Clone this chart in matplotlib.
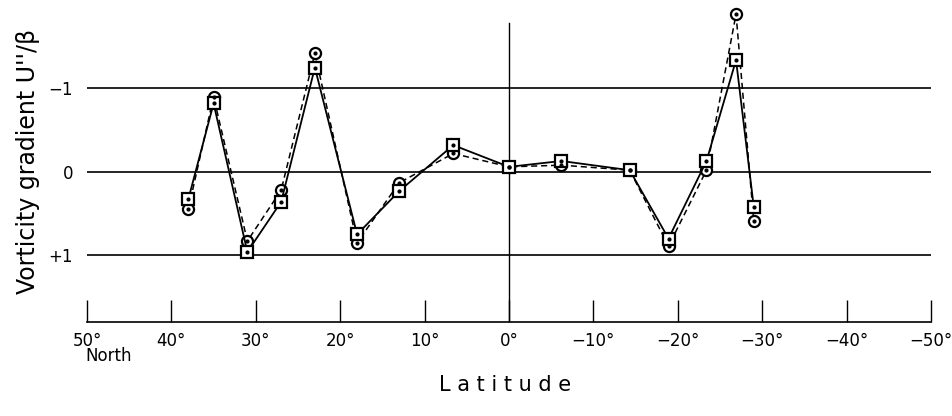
import matplotlib
matplotlib.use("Agg")
import matplotlib.pyplot as plt

# Data
latitude = [38, 35, 31, 27, 23, 18, 13, 6.6, 0, -6.2, -14.3, -18.9, -23.4, -26.9, -29.0]
circles = [0.45, -0.90, 0.83, 0.22, -1.42, 0.85, 0.13, -0.22, -0.06, -0.08, -0.02, 0.89, -0.02, -1.89, 0.59]
squares = [0.33, -0.82, 0.96, 0.36, -1.25, 0.75, 0.23, -0.32, -0.06, -0.13, -0.02, 0.80, -0.13, -1.34, 0.42]
xticks = [50, 40, 30, 20, 10, 0, -10, -20, -30, -40, -50]
xticklabels = ["50°", "40°", "30°", "20°", "10°", "0°",
               "\u221210°", "\u221220°", "\u221230°", "\u221240°", "\u221250°"]
yticks = [-1, 0, 1]
yticklabels = ["\u22121", "0", "+1"]

plt.rcParams['font.family'] = ['DejaVu Sans']
fig = plt.figure(figsize=(9.52, 4.16), dpi=100)
ax = fig.add_axes([87/952, (416-322)/416, (931-87)/952, 322/416])

ax.set_xlim(50, -50)
ax.set_ylim(1.8, -2.06)

for yv in yticks:
    ax.plot([50, -50], [yv, yv], color='black', lw=1.2, zorder=1)
ax.plot([0, 0], [1.8, -1.78], color='black', lw=1.0, zorder=1)

ax.plot(latitude, circles, '--', color='black', lw=1.1, marker='o', ms=8,
        mfc='white', mec='black', mew=1.6, dashes=(4, 2.5), zorder=3)
ax.plot(latitude, squares, '-', color='black', lw=1.3, marker='s', ms=8,
        mfc='white', mec='black', mew=1.6, zorder=4)
ax.plot(latitude, circles, linestyle='none', marker='o', ms=2, color='black', zorder=5)
ax.plot(latitude, squares, linestyle='none', marker='o', ms=2, color='black', zorder=5)

for s in ['top', 'right', 'left']:
    ax.spines[s].set_visible(False)
ax.spines['bottom'].set_linewidth(1.2)

ax.set_xticks(xticks)
ax.set_xticklabels(xticklabels, fontsize=12)
ax.tick_params(axis='x', direction='in', length=16, width=1.0, pad=7)
ax.text(50.2, 2.1, "North", fontsize=12, ha='left', va='top')

ax.set_yticks(yticks)
ax.set_yticklabels(yticklabels, fontsize=12)
ax.tick_params(axis='y', length=0, pad=10)

ax.set_xlabel("L a t i t u d e", fontsize=15)
ax.xaxis.set_label_coords(0.495, -0.165)
ax.set_ylabel("Vorticity gradient U''/β", fontsize=17)
ax.yaxis.set_label_coords(-0.0557, 0.5)

fig.savefig("out.png", dpi=100)
